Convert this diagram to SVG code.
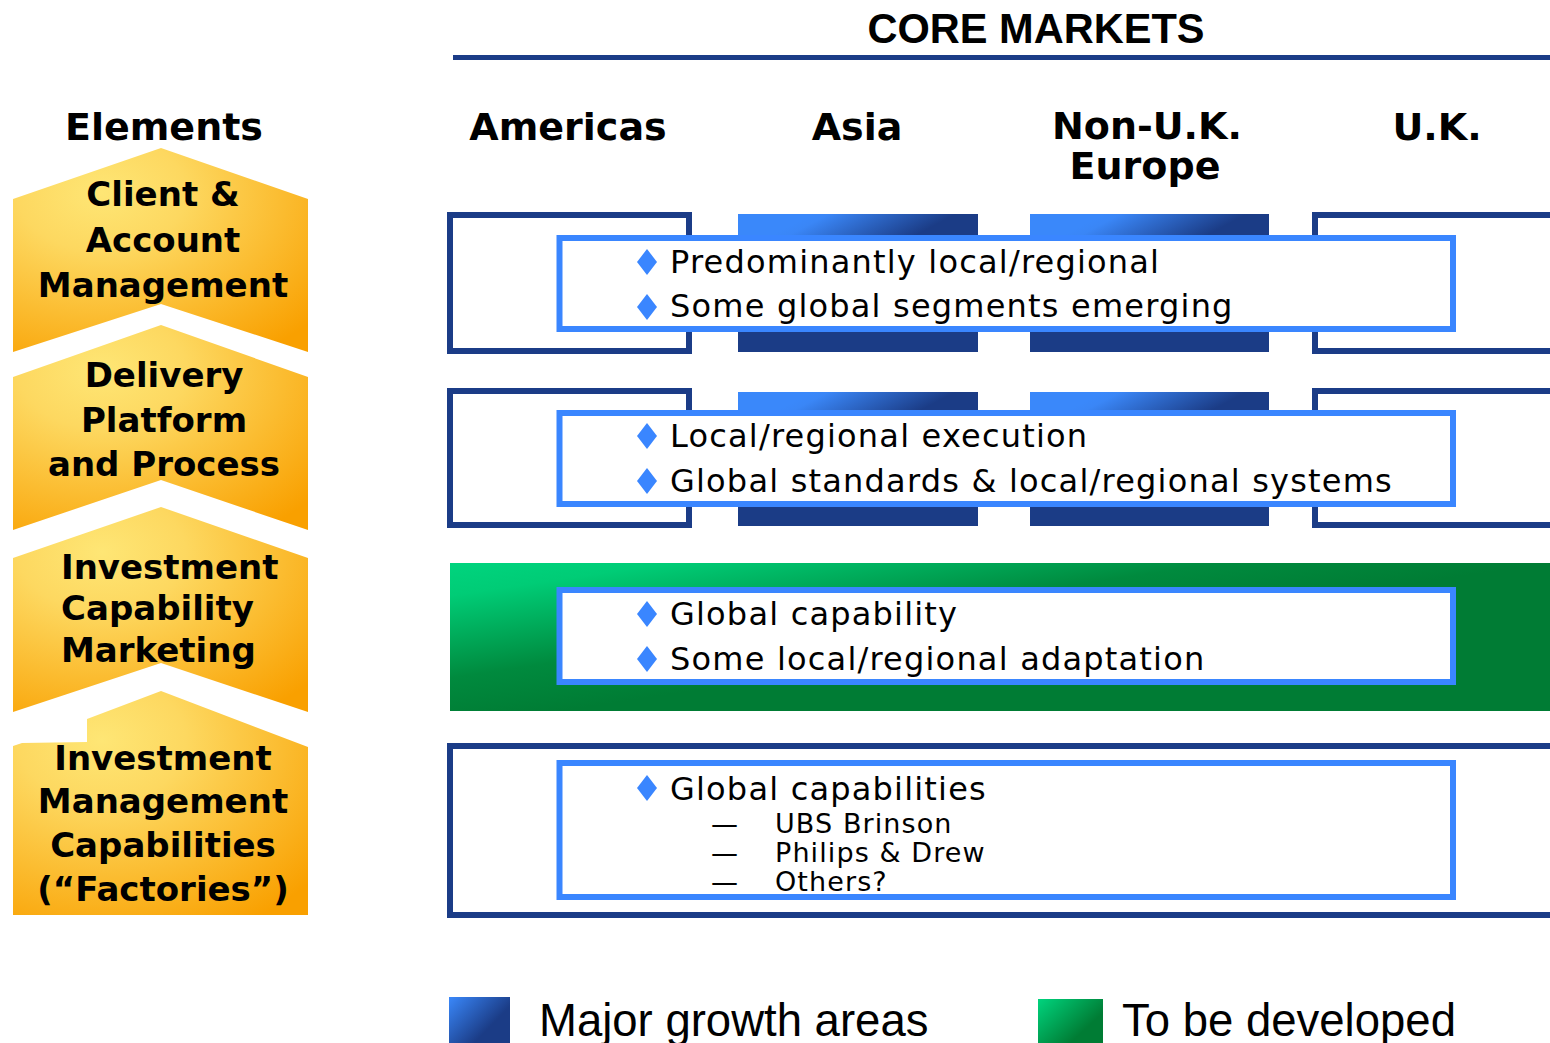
<svg xmlns="http://www.w3.org/2000/svg" width="1550" height="1043" viewBox="0 0 1550 1043">
  <defs>
    <radialGradient id="gold" cx="0.3" cy="0.22" r="0.95" fx="0.3" fy="0.22">
      <stop offset="0" stop-color="#FEE675"/>
      <stop offset="0.3" stop-color="#FDD860"/>
      <stop offset="1" stop-color="#F9A000"/>
    </radialGradient>
    <linearGradient id="blueBar" x1="0.2" y1="0.1" x2="0.477" y2="0.399">
      <stop offset="0" stop-color="#3A88FA"/>
      <stop offset="0.12" stop-color="#3A86F6"/>
      <stop offset="1" stop-color="#1B3C86"/>
    </linearGradient>
    <linearGradient id="greenBand" x1="0" y1="0" x2="0.552" y2="0.497">
      <stop offset="0" stop-color="#00D47E"/>
      <stop offset="0.2" stop-color="#00CC76"/>
      <stop offset="0.7" stop-color="#008A3E"/>
      <stop offset="1" stop-color="#007C34"/>
    </linearGradient>
    <linearGradient id="blueSwatch" x1="0" y1="0" x2="1" y2="0.8">
      <stop offset="0" stop-color="#3A88FA"/>
      <stop offset="0.7" stop-color="#1B3C86"/>
    </linearGradient>
    <linearGradient id="greenSwatch" x1="0" y1="0" x2="1" y2="0.8">
      <stop offset="0" stop-color="#00D47E"/>
      <stop offset="0.75" stop-color="#007C34"/>
    </linearGradient>
    <polygon id="bullet" points="0,-13 10,0 0,13 -10,0"/>
  </defs>
  <style>
    .chev { fill: url(#gold); }
    .lbl { font-family: "DejaVu Sans", Verdana, sans-serif; font-weight: bold; font-size: 34px; fill: #000; text-anchor: middle; }
    .lbl-l { text-anchor: start; }
    .head { font-family: "DejaVu Sans", Verdana, sans-serif; font-weight: bold; font-size: 38px; fill: #000; text-anchor: middle; }
    .title { font-family: "Liberation Sans", Arial, sans-serif; font-weight: bold; font-size: 42px; fill: #000; text-anchor: middle; }
    .frame { fill: none; stroke: #1B3C87; stroke-width: 6; }
    .bar { fill: url(#blueBar); }
    .card { fill: #fff; stroke: #3A86FF; stroke-width: 6; }
    .txt { font-family: "DejaVu Sans", Verdana, sans-serif; font-size: 32px; fill: #000; letter-spacing: 1.2px; }
    .sub { font-family: "DejaVu Sans", Verdana, sans-serif; font-size: 27px; fill: #000; letter-spacing: 1.1px; }
    .dot { fill: #3A86FF; }
    .leg { font-family: "Liberation Sans", Arial, sans-serif; font-size: 45.5px; fill: #000; }
  </style>

  <!-- Column title and rule -->
  <g id="title">
    <text class="title" x="1036" y="43" textLength="337" lengthAdjust="spacingAndGlyphs">CORE MARKETS</text>
    <rect x="453" y="55" width="1097" height="5" fill="#1B3C87"/>
  </g>

  <!-- Column headers -->
  <g id="headers">
    <text class="head" x="164" y="140">Elements</text>
    <text class="head" x="568" y="140">Americas</text>
    <text class="head" x="857" y="140">Asia</text>
    <text class="head" x="1147" y="139">Non-U.K.</text>
    <text class="head" x="1145" y="179">Europe</text>
    <text class="head" x="1437" y="140">U.K.</text>
  </g>

  <!-- Element chevrons -->
  <g id="el-client">
    <polygon class="chev" points="161,148 308,199 308,352 161,304 13,352 13,199"/>
    <text class="lbl" x="163" y="206">Client &amp;</text>
    <text class="lbl" x="163" y="252">Account</text>
    <text class="lbl" x="163" y="297">Management</text>
  </g>
  <g id="el-delivery">
    <polygon class="chev" points="161,325 308,377 308,530 161,480 13,530 13,377"/>
    <text class="lbl" x="164" y="387">Delivery</text>
    <text class="lbl" x="164" y="432">Platform</text>
    <text class="lbl" x="164" y="476">and Process</text>
  </g>
  <g id="el-marketing">
    <polygon class="chev" points="161,507 308,558 308,712 161,663 13,712 13,558"/>
    <text class="lbl lbl-l" x="61" y="579">Investment</text>
    <text class="lbl lbl-l" x="61" y="620">Capability</text>
    <text class="lbl lbl-l" x="61" y="662">Marketing</text>
  </g>
  <g id="el-factories">
    <polygon class="chev" points="161,691 308,747 308,915 13,915 13,746 22,743 87,742 87,719"/>
    <text class="lbl" x="163" y="770">Investment</text>
    <text class="lbl" x="163" y="813">Management</text>
    <text class="lbl" x="163" y="857">Capabilities</text>
    <text class="lbl" x="163" y="901">(“Factories”)</text>
  </g>

  <!-- Row 1: client & account management -->
  <g id="row-client">
    <rect class="frame" x="450" y="215" width="239" height="136"/>
    <rect class="bar" x="738" y="214" width="240" height="138"/>
    <rect class="bar" x="1030" y="214" width="239" height="138"/>
    <rect class="frame" x="1315" y="215" width="250" height="136"/>
    <rect class="card" x="559.5" y="238" width="893.5" height="91"/>
    <use href="#bullet" class="dot" x="647" y="262"/>
    <use href="#bullet" class="dot" x="647" y="307"/>
    <text class="txt" x="670" y="273">Predominantly local/regional</text>
    <text class="txt" x="670" y="317">Some global segments emerging</text>
  </g>

  <!-- Row 2: delivery platform and process -->
  <g id="row-delivery">
    <rect class="frame" x="450" y="391" width="239" height="134"/>
    <rect class="bar" x="738" y="392" width="240" height="134"/>
    <rect class="bar" x="1030" y="392" width="239" height="134"/>
    <rect class="frame" x="1315" y="391" width="250" height="134"/>
    <rect class="card" x="559.5" y="413" width="893.5" height="91"/>
    <use href="#bullet" class="dot" x="647" y="436"/>
    <use href="#bullet" class="dot" x="647" y="481"/>
    <text class="txt" x="670" y="447">Local/regional execution</text>
    <text class="txt" x="670" y="492">Global standards &amp; local/regional systems</text>
  </g>

  <!-- Row 3: investment capability marketing -->
  <g id="row-marketing">
    <rect x="450" y="563" width="1100" height="148" fill="url(#greenBand)"/>
    <rect class="card" x="559.5" y="590" width="893.5" height="92"/>
    <use href="#bullet" class="dot" x="647" y="614"/>
    <use href="#bullet" class="dot" x="647" y="659"/>
    <text class="txt" x="670" y="625">Global capability</text>
    <text class="txt" x="670" y="670">Some local/regional adaptation</text>
  </g>

  <!-- Row 4: investment management capabilities -->
  <g id="row-factories">
    <rect class="frame" x="450" y="746" width="1115" height="169"/>
    <rect class="card" x="559.5" y="763" width="893.5" height="134"/>
    <use href="#bullet" class="dot" x="647" y="788"/>
    <text class="txt" x="670" y="800">Global capabilities</text>
    <text class="sub" x="711" y="833">—</text>
    <text class="sub" x="775" y="833">UBS Brinson</text>
    <text class="sub" x="711" y="862">—</text>
    <text class="sub" x="775" y="862">Philips &amp; Drew</text>
    <text class="sub" x="711" y="891">—</text>
    <text class="sub" x="775" y="891">Others?</text>
  </g>

  <!-- Legend -->
  <g id="legend">
    <rect x="449" y="997" width="61" height="50" fill="url(#blueSwatch)"/>
    <text class="leg" x="539" y="1036">Major growth areas</text>
    <rect x="1038" y="999" width="65" height="48" fill="url(#greenSwatch)"/>
    <text class="leg" x="1122" y="1036">To be developed</text>
  </g>
</svg>
